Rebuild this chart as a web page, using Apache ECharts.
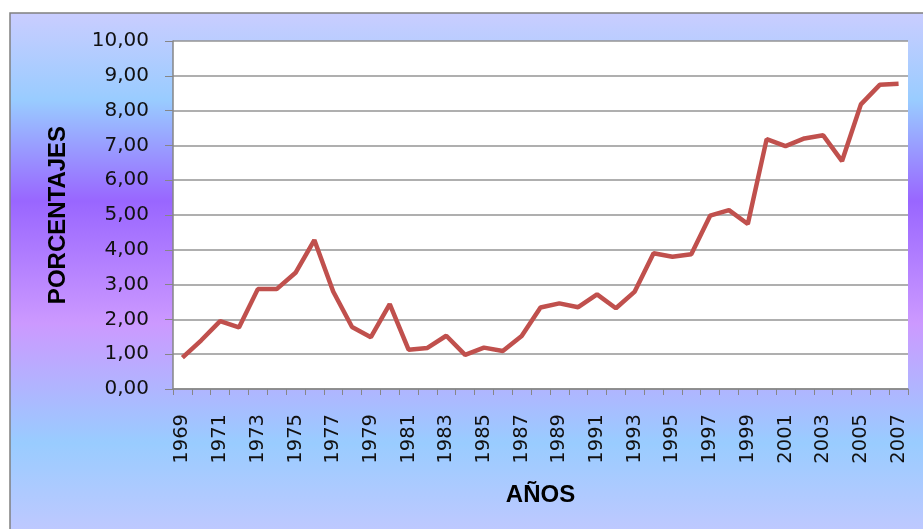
<!DOCTYPE html>
<html><head><meta charset="utf-8">
<script src="https://cdn.jsdelivr.net/npm/echarts@6/dist/echarts.min.js"></script>
<style>html,body{margin:0;padding:0;background:#fff;}#c{width:923px;height:529px;}</style>
</head><body><div id="c"></div>
<script>
const years = ['1969','1970','1971','1972','1973','1974','1975','1976','1977','1978','1979','1980','1981','1982','1983','1984','1985','1986','1987','1988','1989','1990','1991','1992','1993','1994','1995','1996','1997','1998','1999','2000','2001','2002','2003','2004','2005','2006','2007'];
const porcentajes = [0.90,1.40,1.95,1.77,2.87,2.87,3.34,4.28,2.80,1.78,1.49,2.44,1.13,1.18,1.53,0.98,1.19,1.09,1.52,2.34,2.46,2.35,2.72,2.32,2.80,3.90,3.80,3.87,4.98,5.14,4.74,7.18,6.98,7.20,7.29,6.55,8.18,8.74,8.77];
const yTitle = 'PORCENTAJES';
const xTitle = 'AÑOS';

const chart = echarts.init(document.getElementById('c'), null, {renderer:'canvas'});
chart.setOption({
  animation:false,
  graphic:[{
    type:'rect', z:-10, silent:true,
    shape:{x:10,y:13,width:930,height:530},
    style:{
      fill:new echarts.graphic.LinearGradient(0,0,0,1,[
        {offset:0,color:'#cacdff'},
        {offset:0.165,color:'#99ccff'},
        {offset:0.355,color:'#9966ff'},
        {offset:0.585,color:'#cc99ff'},
        {offset:0.81,color:'#99ccff'},
        {offset:1,color:'#c4c8ff'}
      ]),
      stroke:'#808080', lineWidth:1.5
    }
  }],
  grid:{left:173,right:15,top:41,bottom:140,show:true,backgroundColor:'#ffffff',borderWidth:0},
  xAxis:{
    type:'category', data:years, boundaryGap:true,
    name:xTitle, nameLocation:'middle', nameGap:94,
    nameTextStyle:{fontFamily:'Liberation Sans',fontWeight:'bold',fontSize:24,color:'#000'},
    axisLine:{lineStyle:{color:'#868686',width:1.5}},
    axisTick:{show:true,interval:0,length:6,lineStyle:{color:'#868686'}},
    axisLabel:{interval:1,rotate:90,margin:25,fontFamily:'DejaVu Sans',fontSize:19.5,color:'#111'},
    splitLine:{show:false}
  },
  yAxis:{
    type:'value', min:0, max:10, interval:1,
    name:yTitle, nameLocation:'middle', nameGap:103,
    nameTextStyle:{fontFamily:'Liberation Sans',fontWeight:'bold',fontSize:24,color:'#000'},
    axisLine:{show:true,lineStyle:{color:'#868686',width:1.5}},
    axisTick:{show:true,length:8,lineStyle:{color:'#868686'}},
    axisLabel:{margin:24,fontFamily:'DejaVu Sans',fontSize:20,color:'#111',
      formatter:v=>v.toFixed(2).replace('.',',')},
    splitLine:{lineStyle:{color:'#959595',width:1.5}}
  },
  series:[{
    type:'line', data:porcentajes, showSymbol:false, symbol:'none',
    lineStyle:{color:'#c0504d',width:4.5}
  }]
});
</script></body></html>
